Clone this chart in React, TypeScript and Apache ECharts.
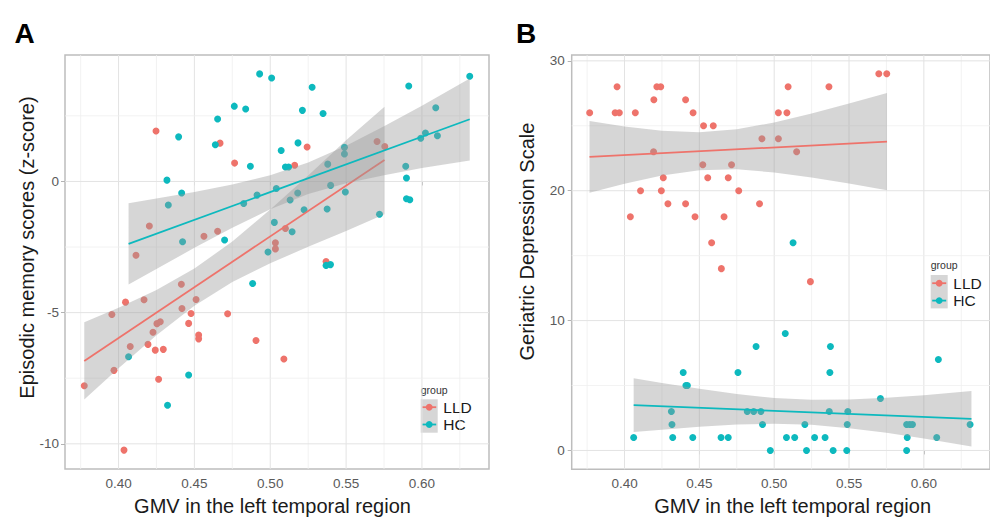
import React, { useEffect, useRef } from "react";
import * as echarts from "echarts";

// ---------- axis ticks ----------
const xTicks = [0.4, 0.45, 0.5, 0.55, 0.6];
const xMinor = [0.375, 0.425, 0.475, 0.525, 0.575, 0.625];
const memTicks = [-10, -5, 0];
const memMinor = [-7.5, -2.5, 2.5];
const gdsTicks = [0, 10, 20, 30];
const gdsMinor = [5, 15, 25];
const groups = ["LLD", "HC"];

// ---------- Panel A: episodic memory ----------
const memLLD = [
  [0.4247, 1.92], [0.4669, 1.46], [0.4765, 0.7], [0.4203, -1.7], [0.4563, -2.09], [0.4653, -1.9],
  [0.4115, -2.81], [0.5034, -2.34], [0.5034, -2.57], [0.5243, 1.31], [0.5161, 0.62], [0.5704, 1.52],
  [0.5755, 1.33], [0.51, -1.79], [0.5368, -3.05], [0.4414, -3.92], [0.4046, -4.6], [0.4168, -4.51],
  [0.4511, -4.5], [0.3956, -5.07], [0.4418, -4.84], [0.4478, -5.03], [0.4719, -5.04], [0.4462, -5.41],
  [0.4253, -5.42], [0.4275, -5.35], [0.4227, -5.75], [0.4528, -5.85], [0.4528, -6.0], [0.4077, -6.29],
  [0.4194, -6.21], [0.4242, -6.43], [0.4295, -6.4], [0.4906, -6.06], [0.397, -7.2], [0.3774, -7.79],
  [0.4264, -7.54], [0.4036, -10.24], [0.509, -6.77],
];
const memHC = [
  [0.493, 4.1], [0.5009, 3.94], [0.4763, 2.87], [0.4838, 2.76], [0.4653, 2.38], [0.4396, 1.7],
  [0.4638, 1.4], [0.4869, 0.58], [0.4319, 0.05], [0.4416, -0.44], [0.4328, -0.9], [0.4825, -0.84],
  [0.4913, -0.52], [0.504, -0.27], [0.4699, -2.23], [0.4422, -2.3], [0.5027, -1.56], [0.4985, -2.69],
  [0.5072, 1.18], [0.5276, 3.59], [0.5212, 2.71], [0.5348, 2.59], [0.5913, 3.64], [0.6315, 4.01],
  [0.6091, 2.81], [0.6023, 1.85], [0.5992, 1.65], [0.6102, 1.74], [0.5183, 1.47], [0.51, 0.55],
  [0.5121, 0.55], [0.5379, 0.66], [0.5489, 1.3], [0.5489, 1.05], [0.5398, -0.15], [0.5181, -0.44],
  [0.5131, -0.71], [0.5495, -0.4], [0.5223, -1.08], [0.5375, -1.05], [0.5144, -1.92], [0.572, -1.25],
  [0.5893, 0.58], [0.5898, 0.13], [0.5898, -0.66], [0.592, -0.7], [0.5368, -3.2], [0.5397, -3.17],
  [0.4884, -3.89], [0.4066, -6.68], [0.4462, -7.38], [0.4323, -8.53],
];
const memFitLLD = [[0.3774, -6.84], [0.5753, 0.82]];
const memFitHC = [[0.4066, -2.38], [0.6315, 2.37]];
const memBandXLLD = [0.3774, 0.4, 0.425, 0.45, 0.475, 0.5, 0.525, 0.55, 0.5753];
const memBandHiLLD = [-5.37, -4.81, -4.14, -3.32, -2.29, -1.07, 0.23, 1.57, 2.85];
const memBandLoLLD = [-8.31, -7.12, -5.86, -4.74, -3.83, -3.12, -2.49, -1.89, -1.25];
const memBandXHC = [0.4066, 0.45, 0.475, 0.5, 0.525, 0.55, 0.575, 0.6, 0.6315];
const memBandHiHC = [-0.83, -0.4, -0.12, 0.24, 0.72, 1.36, 2.1, 2.89, 3.92];
const memBandLoHC = [-3.93, -2.53, -1.76, -1.06, -0.48, -0.07, 0.24, 0.51, 0.8];

// ---------- Panel B: geriatric depression scale ----------
const gdsLLD = [
  [0.3767, 26], [0.395, 28], [0.3937, 26], [0.3965, 26], [0.4072, 26], [0.4039, 18], [0.4107, 20],
  [0.4196, 27], [0.4216, 28], [0.4242, 28], [0.4194, 23], [0.4259, 21], [0.4246, 20], [0.429, 19],
  [0.4408, 27], [0.4458, 26], [0.4408, 19], [0.4471, 18], [0.4528, 25], [0.4593, 25], [0.4523, 22],
  [0.4556, 21], [0.4582, 16], [0.4665, 18], [0.4715, 22], [0.4693, 21], [0.4763, 20], [0.4902, 19],
  [0.4918, 24], [0.5028, 26], [0.5085, 26], [0.5093, 28], [0.5028, 24], [0.515, 23], [0.5366, 28],
  [0.5699, 29], [0.5752, 29], [0.4647, 14], [0.5242, 13],
];
const gdsHC = [
  [0.5126, 16], [0.4061, 1], [0.4313, 3], [0.4317, 2], [0.4322, 1], [0.4392, 6], [0.441, 5],
  [0.442, 5], [0.4456, 1], [0.4645, 1], [0.4693, 1], [0.4758, 6], [0.4879, 8], [0.482, 3],
  [0.4863, 3], [0.4911, 3], [0.4922, 2], [0.4974, 0], [0.5074, 9], [0.5376, 8], [0.5372, 6],
  [0.571, 4], [0.5368, 3], [0.5492, 3], [0.5205, 2], [0.5488, 2], [0.5082, 1], [0.5137, 1],
  [0.527, 1], [0.534, 1], [0.5216, 0], [0.5394, 0], [0.5485, 0], [0.5885, 2], [0.5906, 2],
  [0.5924, 2], [0.5889, 1], [0.5885, 0], [0.6097, 7], [0.6086, 1], [0.6309, 2],
];
const gdsFitLLD = [[0.3766, 22.6], [0.5754, 23.78]];
const gdsFitHC = [[0.4061, 3.49], [0.6318, 2.44]];
const gdsBandXLLD = [0.3766, 0.4, 0.425, 0.45, 0.475, 0.5, 0.525, 0.55, 0.5754];
const gdsBandHiLLD = [25.36, 24.95, 24.61, 24.5, 24.73, 25.25, 25.94, 26.71, 27.52];
const gdsBandLoLLD = [19.84, 20.53, 21.17, 21.58, 21.65, 21.41, 21.02, 20.56, 20.04];
const gdsBandXHC = [0.4061, 0.425, 0.45, 0.475, 0.5, 0.525, 0.55, 0.575, 0.6, 0.6318];
const gdsBandHiHC = [5.56, 5.2, 4.75, 4.35, 4.04, 3.9, 3.92, 4.06, 4.26, 4.57];
const gdsBandLoHC = [1.42, 1.6, 1.83, 1.99, 2.06, 1.98, 1.72, 1.36, 0.92, 0.31];

const COL_LLD = "#EE736B";
const COL_HC = "#0DB9BE";
const FONT = "'Liberation Sans', Arial, Helvetica, sans-serif";
const BAND = "rgba(153,153,153,0.4)";

function gridLines(idx: number, xMid: number, yMid: number, yMaj: number[], yMin: number[]) {
  const data: number[][] = [];
  xTicks.forEach((v) => data.push([v, yMid, 0, 1]));
  xMinor.forEach((v) => data.push([v, yMid, 0, 0]));
  yMaj.forEach((v) => data.push([xMid, v, 1, 1]));
  yMin.forEach((v) => data.push([xMid, v, 1, 0]));
  return {
    type: "custom",
    xAxisIndex: idx,
    yAxisIndex: idx,
    z: 1,
    silent: true,
    data,
    renderItem: (params: any, api: any) => {
      const cs = params.coordSys;
      const orient = api.value(2);
      const major = api.value(3) === 1;
      const style = { stroke: major ? "#E3E3E3" : "#EFEFEF", lineWidth: major ? 1 : 0.8 };
      if (orient === 0) {
        const x = api.coord([api.value(0), api.value(1)])[0];
        return { type: "line", shape: { x1: x, y1: cs.y, x2: x, y2: cs.y + cs.height }, style };
      }
      const y = api.coord([api.value(0), api.value(1)])[1];
      return { type: "line", shape: { x1: cs.x, y1: y, x2: cs.x + cs.width, y2: y }, style };
    },
  };
}

function band(idx: number, xs: number[], lo: number[], hi: number[], z: number) {
  return {
    type: "custom",
    xAxisIndex: idx,
    yAxisIndex: idx,
    z,
    silent: true,
    data: xs.map((x, i) => [x, lo[i], hi[i]]),
    encode: { x: 0, y: [1, 2] },
    renderItem: (params: any, api: any) => {
      if (params.dataIndex !== 0) return null;
      const pts: number[][] = [];
      for (let i = 0; i < xs.length; i++) pts.push(api.coord([xs[i], hi[i]]));
      for (let i = xs.length - 1; i >= 0; i--) pts.push(api.coord([xs[i], lo[i]]));
      return { type: "polygon", shape: { points: pts }, style: { fill: BAND } };
    },
  };
}

function scatter(idx: number, name: string, data: number[][], color: string) {
  return {
    type: "scatter",
    name,
    xAxisIndex: idx,
    yAxisIndex: idx,
    z: 2,
    silent: true,
    symbolSize: 7,
    itemStyle: { color, opacity: 1 },
    data,
  };
}

function fit(idx: number, data: number[][], color: string, z: number) {
  return {
    type: "line",
    xAxisIndex: idx,
    yAxisIndex: idx,
    z,
    silent: true,
    showSymbol: false,
    symbol: "none",
    lineStyle: { color, width: 1.8 },
    data,
  };
}

function xAxis(idx: number, min: number, max: number) {
  return {
    type: "value",
    gridIndex: idx,
    min,
    max,
    axisLine: { show: false },
    splitLine: { show: false },
    axisTick: { show: true, length: 4, customValues: xTicks, lineStyle: { color: "#B3B3B3", width: 1 } },
    axisLabel: {
      customValues: xTicks,
      formatter: (v: number) => v.toFixed(2),
      color: "#5A5A5A",
      fontSize: 13.5,
      fontFamily: FONT,
      margin: 7,
    },
  };
}

function yAxis(idx: number, min: number, max: number, ticks: number[], margin: number) {
  return {
    type: "value",
    gridIndex: idx,
    min,
    max,
    axisLine: { show: false },
    splitLine: { show: false },
    axisTick: { show: true, length: 4, customValues: ticks, lineStyle: { color: "#B3B3B3", width: 1 } },
    axisLabel: {
      customValues: ticks,
      formatter: (v: number) => String(v),
      color: "#5A5A5A",
      fontSize: 13.5,
      fontFamily: FONT,
      margin,
    },
  };
}

function legend(x: number, yTitle: number, yTop: number, yL: number, yH: number) {
  const items: any[] = [
    { type: "text", x, y: yTitle, style: { text: "group", fontSize: 10.5, fontFamily: FONT, fill: "#333", verticalAlign: "middle" } },
    { type: "rect", shape: { x, y: yTop, width: 17, height: 33.4 }, style: { fill: "#D6D6D6" } },
  ];
  [[yL, COL_LLD, groups[0]], [yH, COL_HC, groups[1]]].forEach(([yy, c, t]: any) => {
    items.push({ type: "line", shape: { x1: x + 1.5, y1: yy, x2: x + 15.5, y2: yy }, style: { stroke: c, lineWidth: 1.8 } });
    items.push({ type: "circle", shape: { cx: x + 8.5, cy: yy, r: 3.4 }, style: { fill: c } });
    items.push({ type: "text", x: x + 22.6, y: yy, style: { text: t, fontSize: 15.5, fontFamily: FONT, fill: "#1a1a1a", verticalAlign: "middle" } });
  });
  return items;
}

export default function App() {
  const ref = useRef<HTMLDivElement>(null);
  useEffect(() => {
    if (!ref.current) return;
    const chart = echarts.init(ref.current, null, { renderer: "svg" });
    const option: any = {
      animation: false,
      backgroundColor: "#ffffff",
      textStyle: { fontFamily: FONT },
      grid: [
        { left: 65, top: 55, width: 424, height: 414, show: true, borderColor: "#BDBDBD", borderWidth: 1.5, backgroundColor: "transparent" },
        { left: 571.7, top: 55, width: 427.6, height: 414.3, show: true, borderColor: "#BDBDBD", borderWidth: 1.5, backgroundColor: "transparent" },
      ],
      xAxis: [xAxis(0, 0.3647, 0.6442), xAxis(1, 0.3647, 0.6442)],
      yAxis: [yAxis(0, -10.96, 4.82, memTicks, 6), yAxis(1, -1.45, 30.45, gdsTicks, 7)],
      series: [
        gridLines(0, 0.5, -3, memTicks, memMinor),
        gridLines(1, 0.5, 15, gdsTicks, gdsMinor),
        scatter(0, "LLD", memLLD, COL_LLD),
        scatter(0, "HC", memHC, COL_HC),
        band(0, memBandXLLD, memBandLoLLD, memBandHiLLD, 3),
        fit(0, memFitLLD, COL_LLD, 4),
        band(0, memBandXHC, memBandLoHC, memBandHiHC, 5),
        fit(0, memFitHC, COL_HC, 6),
        scatter(1, "LLD", gdsLLD, COL_LLD),
        scatter(1, "HC", gdsHC, COL_HC),
        band(1, gdsBandXLLD, gdsBandLoLLD, gdsBandHiLLD, 3),
        fit(1, gdsFitLLD, COL_LLD, 4),
        band(1, gdsBandXHC, gdsBandLoHC, gdsBandHiHC, 5),
        fit(1, gdsFitHC, COL_HC, 6),
      ],
      graphic: [
        { type: "text", x: 24.5, y: 33, style: { text: "A", fontSize: 28, fontWeight: "bold", fontFamily: FONT, fill: "#000", align: "center", verticalAlign: "middle" } },
        { type: "text", x: 526, y: 33, style: { text: "B", fontSize: 28, fontWeight: "bold", fontFamily: FONT, fill: "#000", align: "center", verticalAlign: "middle" } },
        { type: "text", x: 272.5, y: 505.5, style: { text: "GMV in the left temporal region", fontSize: 20, fontFamily: FONT, fill: "#1a1a1a", align: "center", verticalAlign: "middle" } },
        { type: "text", x: 792.6, y: 505.5, style: { text: "GMV in the left temporal region", fontSize: 20, fontFamily: FONT, fill: "#1a1a1a", align: "center", verticalAlign: "middle" } },
        { type: "text", x: 26.5, y: 247.5, rotation: Math.PI / 2, style: { text: "Episodic memory scores (z-score)", fontSize: 20, fontFamily: FONT, fill: "#1a1a1a", align: "center", verticalAlign: "middle" } },
        { type: "text", x: 527, y: 241.6, rotation: Math.PI / 2, style: { text: "Geriatric Depression Scale", fontSize: 20, fontFamily: FONT, fill: "#1a1a1a", align: "center", verticalAlign: "middle" } },
        ...legend(420.7, 390, 399.3, 407.2, 424.5),
        ...legend(930.7, 265, 275, 283.2, 300.6),
      ],
    };
    chart.setOption(option);
    return () => chart.dispose();
  }, []);
  return (
    <div
      ref={ref}
      style={{ position: "fixed", left: 0, top: 0, width: 990, height: 517, background: "#ffffff" }}
    />
  );
}
